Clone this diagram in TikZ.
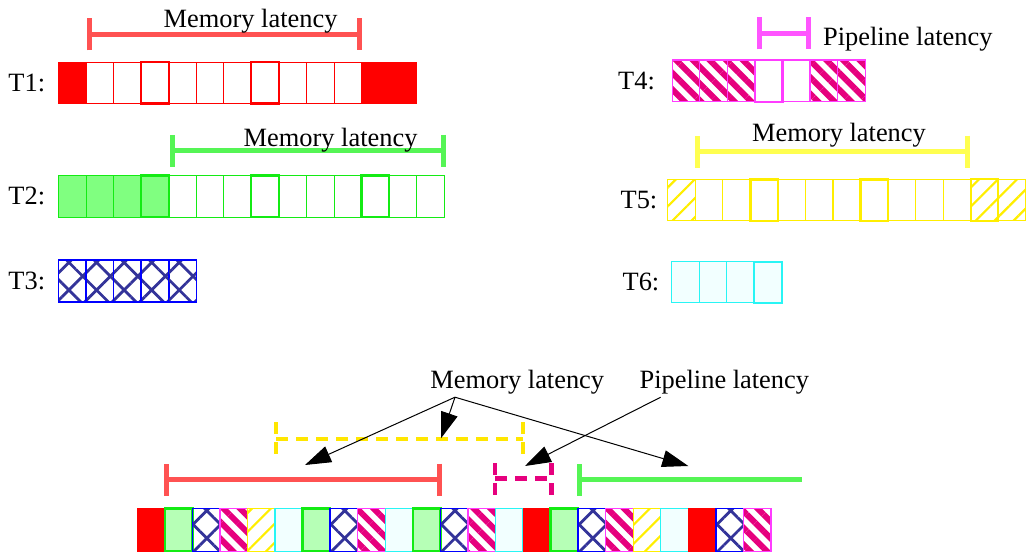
\documentclass[tikz,border=0pt]{standalone}
\usepackage{fontspec}
\setmainfont{Liberation Serif}
\usetikzlibrary{positioning,arrows.meta,patterns.meta}

\definecolor{cellred}{RGB}{255,0,0}
\definecolor{barred}{RGB}{255,82,82}
\definecolor{cellgreen}{RGB}{20,235,20}
\definecolor{fillgreen}{RGB}{128,255,128}
\definecolor{palegreen}{RGB}{182,255,182}
\definecolor{bargreen}{RGB}{85,245,85}
\definecolor{cellblue}{RGB}{0,0,255}
\definecolor{hatchblue}{RGB}{51,51,153}
\definecolor{cellpink}{RGB}{255,60,255}
\definecolor{stripepink}{RGB}{230,0,126}
\definecolor{barpink}{RGB}{255,85,255}
\definecolor{cellyellow}{RGB}{255,238,0}
\definecolor{baryellow}{RGB}{255,255,80}
\definecolor{dashyellow}{RGB}{255,230,0}
\definecolor{cellcyan}{RGB}{40,245,245}
\definecolor{palecyan}{RGB}{242,255,255}

\newcommand{\cellw}{27.55}

\tikzset{
  lab/.style={font=\fontsize{13.2}{16}\selectfont, inner sep=0pt},
  rfull/.style={draw=cellred, fill=cellred, line width=0.5pt},
  ropen/.style={draw=cellred, line width=0.5pt},
  rthick/.style={ropen, line width=1.1pt},
  gfull/.style={draw=cellgreen, fill=fillgreen, line width=0.5pt},
  gfullthick/.style={gfull, line width=1.1pt},
  gopen/.style={draw=cellgreen, line width=0.5pt},
  gthick/.style={gopen, line width=1.1pt},
  gpale/.style={draw=cellgreen, fill=palegreen, line width=1.3pt},
  bx/.style={draw=cellblue, line width=0.7pt, pattern={Hatch[angle=45,distance=9.75pt,line width=1.4pt]}, pattern color=hatchblue},
  bxthick/.style={bx, line width=1.1pt},
  pst/.style={draw=cellpink, line width=0.6pt, pattern={Lines[angle=-45,distance=5.9pt,line width=3pt]}, pattern color=stripepink},
  popen/.style={draw=cellpink, line width=0.6pt},
  pthick/.style={popen, line width=1.1pt},
  yh/.style={draw=cellyellow, line width=0.6pt, pattern={Lines[angle=45,distance=6.7pt,line width=1.1pt]}, pattern color=cellyellow},
  yhthick/.style={yh, line width=1.1pt},
  yopen/.style={draw=cellyellow, line width=0.6pt},
  ythick/.style={yopen, line width=1.2pt},
  cc/.style={draw=cellcyan, fill=palecyan, line width=0.6pt},
  ccthick/.style={cc, line width=1.1pt},
  latbar/.style={line width=2.4pt, {Bar[width=16pt]}-{Bar[width=16pt]}},
  latdash/.style={line width=2.4pt, dash pattern=on 6pt off 4pt},
  callout/.style={draw=black, line width=0.5pt, -{Triangle[length=13pt,width=8.5pt]}}
}

\begin{document}
\begin{tikzpicture}[x=0.5pt,y=-0.5pt]
  \useasboundingbox (0,0) rectangle (1029,552);

  % thread T1
  \begin{scope}[shift={(58.5,62)}]
    \foreach \s [count=\i from 0] in {rfull,ropen,ropen,rthick,ropen,ropen,ropen,rthick,ropen,ropen,ropen,rfull,rfull}
      \draw[\s] (\i*\cellw,0) rectangle ++(\cellw,41.5);
    \coordinate (row1) at (0,20.75);
  \end{scope}
  \node[lab, left=6.5pt of row1] (t1) {T1:};
  \draw[latbar, draw=barred] (86.7,34.3) -- (361.7,34.3);
  \node[lab, anchor=base west] (mem1) at (163.3,27.3) {Memory latency};

  % thread T2
  \begin{scope}[shift={(58.5,175.5)}]
    \foreach \s [count=\i from 0] in {gfull,gfull,gfull,gfullthick,gopen,gopen,gopen,gthick,gopen,gopen,gopen,gthick,gopen,gopen}
      \draw[\s] (\i*\cellw,0) rectangle ++(\cellw,41.5);
    \coordinate (row2) at (0,20.75);
  \end{scope}
  \node[lab, left=6.5pt of row2] (t2) {T2:};
  \draw[latbar, draw=bargreen] (170,150.7) -- (445.5,150.7);
  \node[lab, anchor=base west] (mem2) at (243.3,146) {Memory latency};

  % thread T3
  \begin{scope}[shift={(58.5,260)}]
    \foreach \s [count=\i from 0] in {bx,bx,bx,bxthick,bx}
      \draw[\s] (\i*\cellw,0) rectangle ++(\cellw,42);
    \coordinate (row3) at (0,21);
  \end{scope}
  \node[lab, left=6.5pt of row3] (t3) {T3:};

  % thread T4
  \begin{scope}[shift={(672.3,60)}]
    \foreach \s [count=\i from 0] in {pst,pst,pst,pthick,popen,pst,pst}
      \draw[\s] (\i*\cellw,0) rectangle ++(\cellw,41.7);
    \coordinate (row4) at (0,20.85);
  \end{scope}
  \node[lab, left=8.5pt of row4] (t4) {T4:};
  \draw[latbar, draw=barpink] (756.7,33.3) -- (810.7,33.3);
  \node[lab, anchor=base west] (pipe4) at (822.7,45) {Pipeline latency};

  % thread T5
  \begin{scope}[shift={(667.7,179.3)}]
    \foreach \s [count=\i from 0] in {yh,yopen,yopen,ythick,yopen,yopen,yopen,ythick,yopen,yopen,yopen,yhthick,yh}
      \draw[\s] (\i*\cellw,0) rectangle ++(\cellw,41.4);
    \coordinate (row5) at (0,20.7);
  \end{scope}
  \node[lab, left=5pt of row5] (t5) {T5:};
  \draw[latbar, draw=baryellow] (695,151.7) -- (970,151.7);
  \node[lab, anchor=base west] (mem5) at (751.7,141.7) {Memory latency};

  % thread T6
  \begin{scope}[shift={(671.7,261.7)}]
    \foreach \s [count=\i from 0] in {cc,cc,cc,ccthick}
      \draw[\s] (\i*\cellw,0) rectangle ++(\cellw,41);
    \coordinate (row6) at (0,20.5);
  \end{scope}
  \node[lab, left=6pt of row6] (t6) {T6:};

  % interleaved issue
  \begin{scope}[shift={(137.3,508.3)}]
    \foreach \s [count=\i from 0] in {rfull,gpale,bx,pst,yh,cc,gpale,bx,pst,cc,gpale,bx,pst,cc,rfull,gpale,bx,pst,yh,cc,rfull,bx,pst}
      \draw[\s] (\i*\cellw,0) rectangle ++(\cellw,43.4);
  \end{scope}

  \draw[latbar, draw=barred] (164,479.5) -- (441.5,479.5);
  \draw[line width=2.4pt, {Bar[width=16pt]}-, draw=bargreen] (577,479.5) -- (801.7,479.5);
  \draw[latdash, draw=dashyellow] (276,422) -- (276,455) (276,439) -- (523,439) (523,422) -- (523,455);
  \draw[latdash, draw=stripepink] (495,463) -- (495,495) (495,478.5) -- (551.5,478.5) (551.5,463) -- (551.5,495);

  \node[lab, anchor=base west] (memall) at (430,388) {Memory latency};
  \node[lab, anchor=base west] (pipeall) at (639.3,388) {Pipeline latency};
  \coordinate (memfoot) at ([xshift=12.5pt,yshift=-4.6pt]memall.base west);
  \coordinate (pipefoot) at ([xshift=10.7pt,yshift=-4.6pt]pipeall.base west);
  \coordinate (redaim) at (305,465);
  \coordinate (yellowaim) at (441,438.3);
  \coordinate (greenaim) at (688.3,466);
  \coordinate (pinkaim) at (525,466);

  \draw[callout] (memfoot) -- (redaim);
  \draw[callout] (memfoot) -- (yellowaim);
  \draw[callout] (memfoot) -- (greenaim);
  \draw[callout] (pipefoot) -- (pinkaim);
\end{tikzpicture}
\end{document}
